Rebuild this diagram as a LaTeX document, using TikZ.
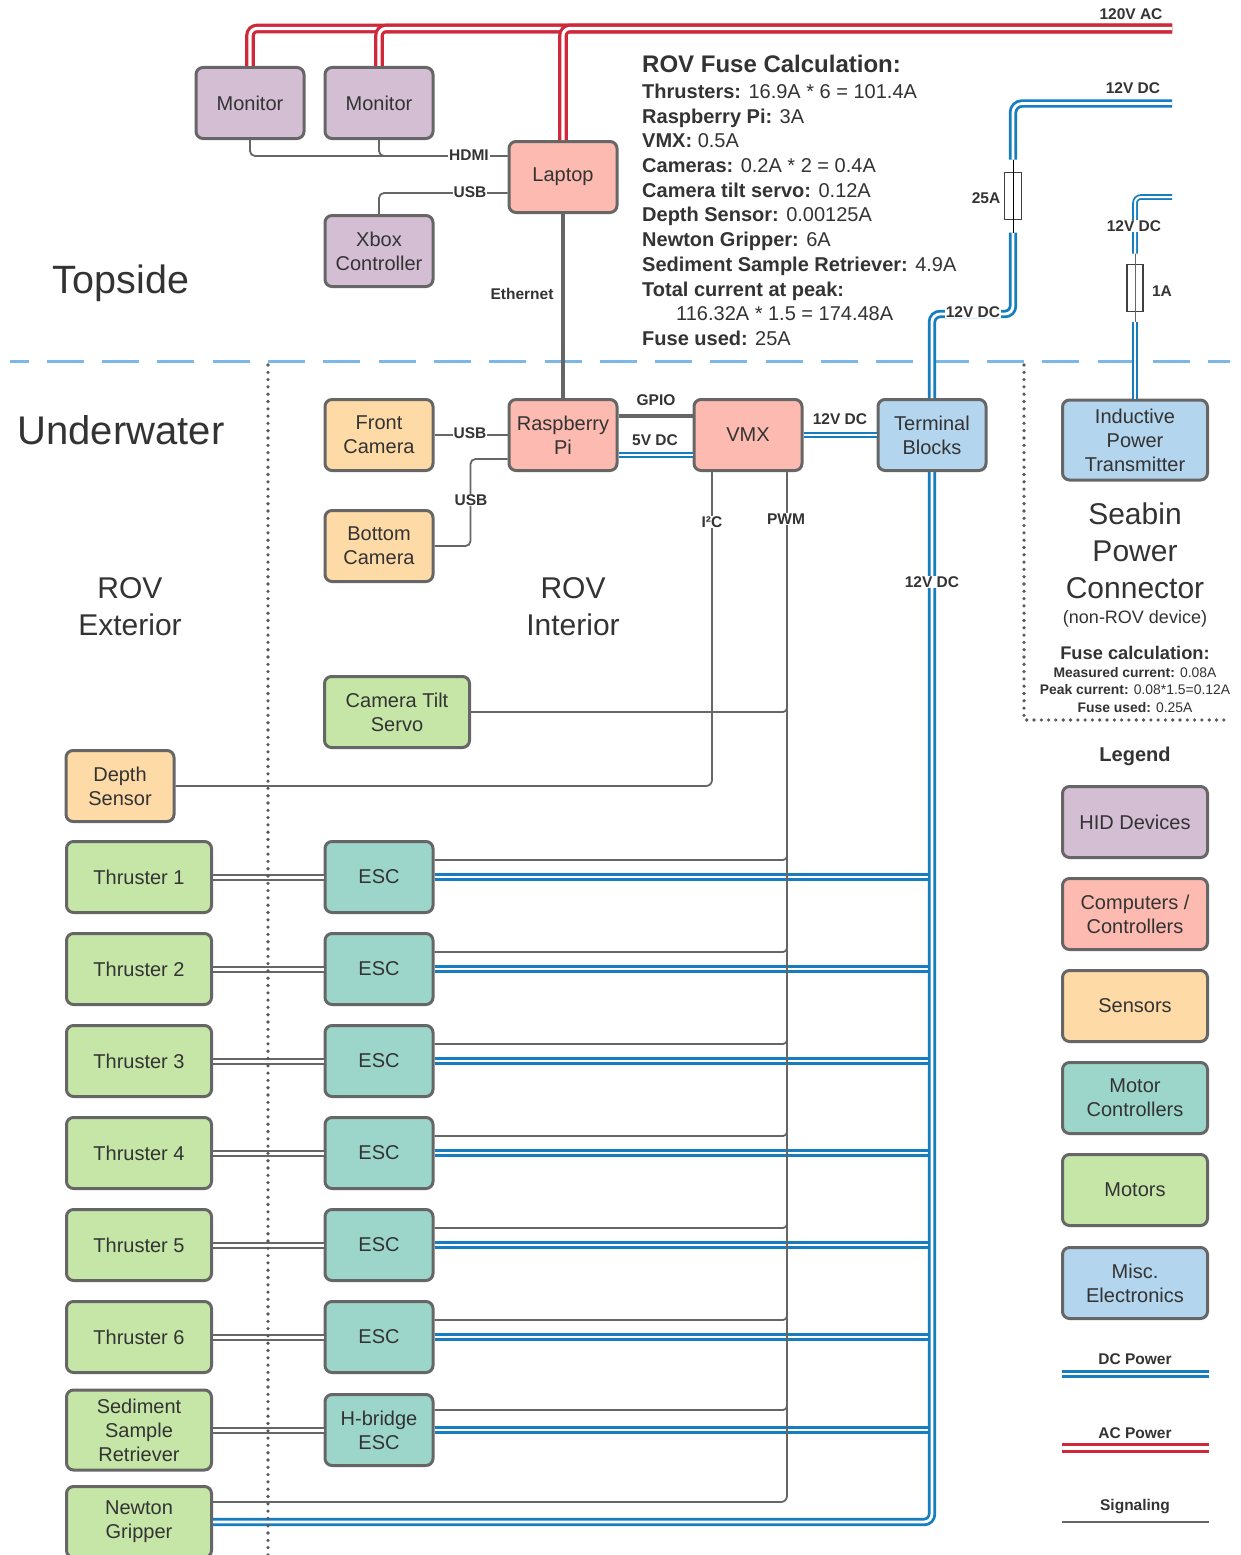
\documentclass[tikz,border=0pt]{standalone}
\usepackage{fontspec}
\setmainfont{Liberation Sans}
\usetikzlibrary{calc}
\definecolor{hid}{RGB}{211,190,211}
\definecolor{comp}{RGB}{253,186,176}
\definecolor{sens}{RGB}{254,218,167}
\definecolor{mctl}{RGB}{156,214,203}
\definecolor{motor}{RGB}{198,230,168}
\definecolor{misc}{RGB}{179,213,238}
\definecolor{edge}{RGB}{102,102,102}
\definecolor{txt}{RGB}{51,51,51}
\definecolor{acred}{RGB}{207,40,58}
\definecolor{dcblue}{RGB}{22,125,193}
\definecolor{sepblue}{RGB}{125,183,229}
\tikzset{
 box/.style={draw=edge, line width=3pt, rounded corners=7pt, minimum width=108pt, minimum height=71pt, align=center, font=\fontsize{20}{24}\selectfont, text=txt, inner sep=2pt},
 wbox/.style={box, minimum width=145pt},
 tbox/.style={box, minimum width=145pt, minimum height=80pt},
 sig/.style={draw=edge, line width=1.8pt},
 eth/.style={draw=edge, line width=3.5pt},
 ac/.style={draw=acred, line width=3.2pt, double=white, double distance=3.2pt},
 dc/.style={draw=dcblue, line width=2.8pt, double=white, double distance=2.8pt},
 dcthin/.style={draw=dcblue, line width=1.8pt, double=white, double distance=2pt},
 mot/.style={draw=edge, line width=2pt, double=white, double distance=3pt},
 lbl/.style={font=\bfseries\fontsize{15.5}{18}\selectfont, text=txt, inner sep=1pt},
 lblw/.style={lbl, fill=white},
 big/.style={font=\fontsize{30}{37}\selectfont, text=txt, align=center},
 fc/.style={anchor=base west, font=\fontsize{20}{24}\selectfont, text=txt, inner sep=0pt},
 fuse/.style={draw=black!75, line width=1.2pt, fill=white, minimum width=17pt, minimum height=47pt, inner sep=0pt, outer sep=0pt},
 sep/.style={draw=sepblue, line width=3pt, dash pattern=on 37pt off 18.3pt, dash phase=37pt},
 dotl/.style={draw=black!65, line width=3.6pt, line cap=round, dash pattern=on 0pt off 7.3pt},
}
\begin{document}
\begin{tikzpicture}[x=1pt,y=-1pt]
\useasboundingbox (0,0) rectangle (1241,1555);
\fill[white] (0,0) rectangle (1241,1555);

% separators
\draw[sep] (268,361) -- (10,361);
\draw[sep, dash phase=0pt] (268,361) -- (1024,361);
\draw[sep] (1024,361) -- (1230,361);

% topside nodes
\node[box, fill=hid] (mon1) at (250,103) {Monitor};
\node[box, fill=hid] (mon2) at (379,103) {Monitor};
\node[box, fill=comp] (laptop) at (563,177) {Laptop};
\node[box, fill=hid] (xbox) at (379,251) {Xbox\\Controller};

% underwater nodes
\node[box, fill=sens] (fcam) at (379,435) {Front\\Camera};
\node[box, fill=comp] (rpi) at (563,435) {Raspberry\\Pi};
\node[box, fill=comp] (vmx) at (748,435) {VMX};
\node[box, fill=misc] (tb) at (932,435) {Terminal\\Blocks};
\node[tbox, fill=misc] (ipt) at (1135,440) {Inductive\\Power\\Transmitter};
\node[box, fill=sens] (bcam) at (379,546) {Bottom\\Camera};
\node[wbox, fill=motor] (servo) at (397,712) {Camera Tilt\\Servo};
\node[box, fill=sens] (depth) at (120,786) {Depth\\Sensor};
\foreach \i/\y in {1/877,2/969,3/1061,4/1153,5/1245,6/1337}{
  \node[wbox, fill=motor] (thr\i) at (139,\y) {Thruster \i};
  \node[box, fill=mctl] (esc\i) at (379,\y) {ESC};
}
\node[tbox, fill=motor] (sed) at (139,1430) {Sediment\\Sample\\Retriever};
\node[box, fill=mctl] (hb) at (379,1430) {H-bridge\\ESC};
\node[wbox, fill=motor] (newton) at (139,1522) {Newton\\Gripper};

% legend
\node[font=\bfseries\fontsize{20}{24}\selectfont, text=txt] (legt) at (1135,756) {Legend};
\node[wbox, fill=hid] (lg1) at (1135,822) {HID Devices};
\node[wbox, fill=comp] (lg2) at (1135,914) {Computers /\\Controllers};
\node[wbox, fill=sens] (lg3) at (1135,1006) {Sensors};
\node[wbox, fill=mctl] (lg4) at (1135,1098) {Motor\\Controllers};
\node[wbox, fill=motor] (lg5) at (1135,1190) {Motors};
\node[wbox, fill=misc] (lg6) at (1135,1283) {Misc.\\Electronics};
\coordinate (ldc1) at (1062,1374); \coordinate (ldc2) at (1209,1374);
\coordinate (lac1) at (1062,1448); \coordinate (lac2) at (1209,1448);
\coordinate (lsg1) at (1062,1522); \coordinate (lsg2) at (1209,1522);
\draw[dc] (ldc1) -- (ldc2);
\draw[ac] (lac1) -- (lac2);
\draw[sig] (lsg1) -- (lsg2);
\node[lbl] (ldct) at (1135,1359) {DC Power};
\node[lbl] (lact) at (1135,1433) {AC Power};
\node[lbl] (lsgt) at (1135,1507) {Signaling};

% AC power
\coordinate (acend) at (1172,28.5);
\draw[ac, rounded corners=7pt] (acend) -| (mon1.north);
\draw[ac, rounded corners=7pt] (acend) -| (mon2.north);
\draw[ac, rounded corners=7pt] (acend) -| (laptop.north);

% topside signals
\draw[sig, rounded corners=5pt] (mon1.south) |- ($(laptop.west)+(0,-21)$);
\draw[sig, rounded corners=5pt] (mon2.south) |- ($(laptop.west)+(0,-21)$);
\draw[sig, rounded corners=5pt] (xbox.north) |- ($(laptop.west)+(0,16)$);
\draw[eth] (laptop.south) -- (rpi.north);

% underwater signals
\draw[sig] (fcam.east) -- (rpi.west);
\draw[sig, rounded corners=5pt] (bcam.east) -| ($(rpi.west)+(-37,24)$) -- ($(rpi.west)+(0,24)$);
\draw[eth] ($(rpi.east)+(0,-19)$) -- ($(vmx.west)+(0,-19)$);
\draw[dcthin] ($(rpi.east)+(0,20)$) -- ($(vmx.west)+(0,20)$);
\draw[dcthin] (vmx.east) -- (tb.west);
\draw[sig, rounded corners=6pt] ($(vmx.south)+(-36,0)$) |- (depth.east);
\draw[sig, rounded corners=4pt] (servo.east) -| (787,700);
\foreach \i/\y in {1/877,2/969,3/1061,4/1153,5/1245,6/1337}{
  \draw[mot] (thr\i.east) -- (esc\i.west);
  \draw[sig, rounded corners=4pt] ($(esc\i.east)+(0,-17)$) -| (787,\y-30);
  \draw[dc] (esc\i.east) -- (928.5,\y);
}
\draw[mot] (sed.east) -- (hb.west);
\draw[sig, rounded corners=4pt] ($(hb.east)+(0,-20)$) -| (787,1397);
\draw[dc] (hb.east) -- (928.5,1430);
\draw[sig, rounded corners=6pt] ($(vmx.south)+(39,0)$) |- ($(newton.east)+(0,-20)$);
\draw[dc, rounded corners=8pt] (tb.south) |- (newton.east);

% 12V supply and fuse
\node[fuse] (fuse1) at (1013,196) {};
\coordinate (dcend) at (1172,103.5);
\draw[dc, rounded corners=9pt] (dcend) -| ($(fuse1.north)+(0,-13)$);
\draw[dc, rounded corners=8pt] ($(fuse1.south)+(0,13)$) -- (1013,314) -| (tb.north);
\draw[black, line width=1pt] ($(fuse1.north)+(0,-13)$) -- ($(fuse1.south)+(0,13)$);

% seabin supply and fuse
\node[fuse, minimum width=16pt] (fuse2) at (1135,288) {};
\coordinate (sbend) at (1172,197);
\draw[dcthin, rounded corners=6pt] (sbend) -| ($(fuse2.north)+(0,-11)$);
\draw[dcthin] ($(fuse2.south)+(0,10)$) -- (ipt.north);
\draw[edge, line width=1pt] ($(fuse2.north)+(0,-11)$) -- ($(fuse2.south)+(0,10)$);

% dotted borders
\draw[dotl] (268,365) -- (268,1555);
\draw[dotl] (1024,365) -- (1024,720) -- (1230,720);

% connector labels
\node[lbl] (l120) at (1131,14) {120V AC};
\node[lblw] (lhdmi) at (469,155) {HDMI};
\node[lblw] (lusb1) at (470,192) {USB};
\node[lbl] (leth) at (522,294) {Ethernet};
\node[lblw] (lusb2) at (470,433) {USB};
\node[lblw] (lusb3) at (471,500) {USB};
\node[lbl] (lgpio) at (656,400) {GPIO};
\node[lbl] (l5v) at (655,440) {5V DC};
\node[lbl] (l12a) at (840,419) {12V DC};
\node[lblw] (li2c) at (712,522) {I²C};
\node[lblw] (lpwm) at (786,519) {PWM};
\node[lblw] (l12b) at (932,582) {12V DC};
\node[lblw] (l12c) at (973,312) {12V DC};
\node[lbl] (l25) at (986,198) {25A};
\node[lbl] (l12d) at (1133,88) {12V DC};
\node[lblw] (l12e) at (1134,226) {12V DC};
\node[lbl] (l1a) at (1162,291) {1A};

% region titles
\node[font=\fontsize{39.5}{46}\selectfont, text=txt] (topside) at (121,283) {Topside};
\node[font=\fontsize{40}{48}\selectfont, text=txt] (underwater) at (121,430) {Underwater};
\node[big] (rovext) at (130,607) {ROV\\Exterior};
\node[big] (rovint) at (573,607) {ROV\\Interior};
\node[big] (seabin) at (1135,551) {Seabin\\Power\\Connector};
\node[font=\fontsize{18}{22}\selectfont, text=txt] (nonrov) at (1135,619) {(non-ROV device)};
\node[font=\bfseries\fontsize{18.3}{22}\selectfont, text=txt] (sfc) at (1135,653) {Fuse calculation:};
\node[font=\fontsize{13.9}{17}\selectfont, text=txt] (sfc1) at (1135,673) {\textbf{Measured current:} 0.08A};
\node[font=\fontsize{13.9}{17}\selectfont, text=txt] (sfc2) at (1135,690) {\textbf{Peak current:} 0.08*1.5=0.12A};
\node[font=\fontsize{13.9}{17}\selectfont, text=txt] (sfc3) at (1135,708) {\textbf{Fuse used:} 0.25A};

% ROV fuse calculation
\node[fc, font=\bfseries\fontsize{24}{28}\selectfont] (rf0) at (642,72.5) {ROV Fuse Calculation:};
\node[fc] (rf1) at (642,99) {\textbf{Thrusters:} 16.9A * 6 = 101.4A};
\node[fc] (rf2) at (642,123) {\textbf{Raspberry Pi:} 3A};
\node[fc] (rf3) at (642,147) {\textbf{VMX:} 0.5A};
\node[fc] (rf4) at (642,172) {\textbf{Cameras:} 0.2A * 2 = 0.4A};
\node[fc] (rf5) at (642,197) {\textbf{Camera tilt servo:} 0.12A};
\node[fc] (rf6) at (642,221) {\textbf{Depth Sensor:} 0.00125A};
\node[fc] (rf7) at (642,246) {\textbf{Newton Gripper:} 6A};
\node[fc] (rf8) at (642,271) {\textbf{Sediment Sample Retriever:} 4.9A};
\node[fc] (rf9) at (642,296) {\textbf{Total current at peak:}};
\node[fc] (rf10) at (676,320) {116.32A * 1.5 = 174.48A};
\node[fc] (rf11) at (642,345) {\textbf{Fuse used:} 25A};
\end{tikzpicture}
\end{document}
